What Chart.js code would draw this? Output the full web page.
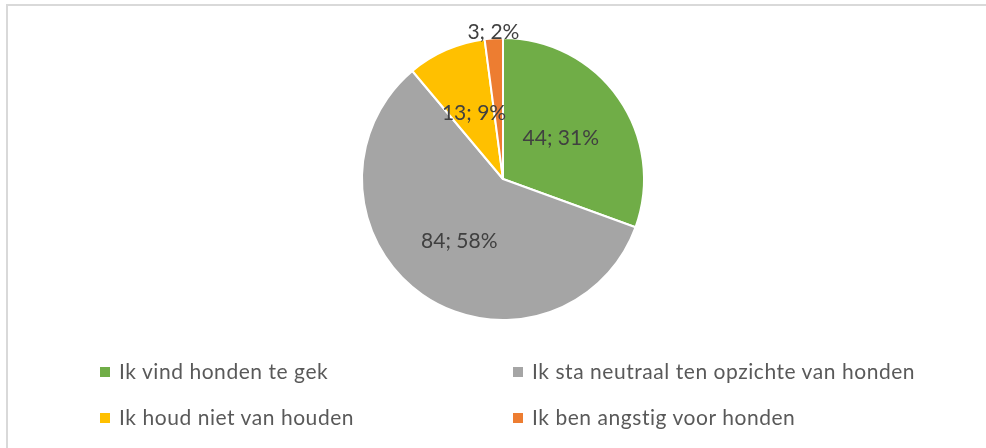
<!DOCTYPE html>
<html>
<head>
<meta charset="utf-8">
<script src="https://cdn.jsdelivr.net/npm/chart.js@4.4.1/dist/chart.umd.min.js"></script>
<style>
  body { margin: 0; background: #fff; }
  #wrap { position: relative; width: 986px; height: 448px; overflow: hidden; }
  #frame { position: absolute; left: 6px; top: 4px; width: 1000px; height: 500px;
           border-left: 2px solid #d9d9d9; border-top: 2px solid #d9d9d9; }
  #myChart { position: absolute; left: 0; top: 0; }
  .leg { position: absolute; font-family: Lato, sans-serif; font-size: 21px; letter-spacing: 0.55px;
         color: #595959; white-space: nowrap; line-height: 24px; }
  .leg span { display: inline-block; width: 10px; height: 10px; margin-right: 9px; vertical-align: 2px; }
</style>
</head>
<body>
<div id="wrap">
  <div id="frame"></div>
  <canvas id="myChart" width="986" height="448"></canvas>
</div>
<script>
// data
var labels = ["Ik vind honden te gek", "Ik sta neutraal ten opzichte van honden", "Ik houd niet van houden", "Ik ben angstig voor honden"];
var counts = [44, 84, 13, 3];
var percents = [31, 58, 9, 2];
var colors = ["#70ad47", "#a5a5a5", "#ffc000", "#ed7d31"];

// where each label sits, as part of the radius
var labelRadius = [0.5, 0.54, 0.51, 1.04];

// legend in 2 columns
var legPos = [[100, 359], [513, 359], [100, 405], [513, 405]];
var wrap = document.getElementById("wrap");
for (var i = 0; i < labels.length; i++) {
    var d = document.createElement("div");
    d.className = "leg";
    d.style.left = legPos[i][0] + "px";
    d.style.top = legPos[i][1] + "px";
    d.innerHTML = '<span style="background:' + colors[i] + '"></span>' + labels[i];
    wrap.appendChild(d);
}

// plugin for the "44; 31%" labels
var sliceLabels = {
    id: "sliceLabels",
    afterDatasetsDraw: function(chart) {
        var ctx = chart.ctx;
        var arcs = chart.getDatasetMeta(0).data;
        ctx.save();
        ctx.font = "21px Lato";
        ctx.fillStyle = "#404040";
        ctx.textAlign = "center";
        ctx.textBaseline = "middle";
        arcs.forEach(function(arc, i) {
            var p = arc.getProps(["x", "y", "startAngle", "endAngle", "outerRadius"], true);
            var mid = (p.startAngle + p.endAngle) / 2;
            var r = p.outerRadius * labelRadius[i];
            ctx.fillText(counts[i] + "; " + percents[i] + "%", p.x + Math.cos(mid) * r, p.y + Math.sin(mid) * r);
        });
        ctx.restore();
    }
};

const myChart = document.querySelector('#myChart').getContext('2d');
const chart = new Chart(myChart, {
    type: "pie",
    data: {
        labels: labels,
        datasets: [{
            data: counts,
            backgroundColor: colors,
            borderColor: "#ffffff",
            borderWidth: 2
        }]
    },
    options: {
        responsive: false,
        animation: false,
        layout: { padding: { top: 37, bottom: 127, left: 20, right: 0 } },
        plugins: {
            legend: { display: false },
            tooltip: { enabled: false }
        }
    },
    plugins: [sliceLabels]
});
</script>
</body>
</html>
